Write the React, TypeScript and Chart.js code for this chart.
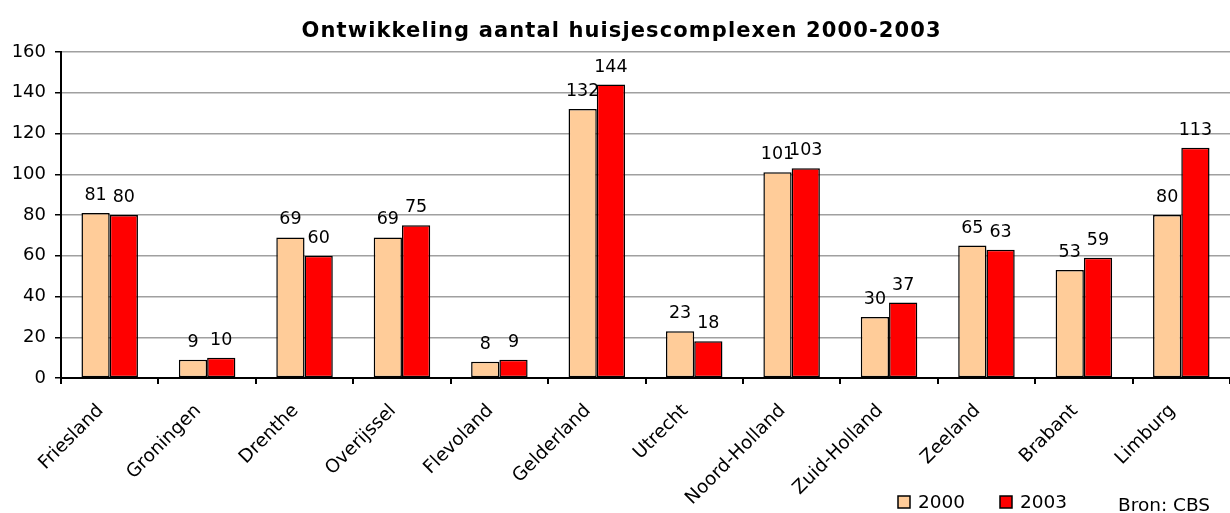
import React, { useEffect, useRef } from "react";
import { Chart, registerables } from "chart.js";

Chart.register(...registerables);

const categories = [
  "Friesland", "Groningen", "Drenthe", "Overijssel", "Flevoland", "Gelderland",
  "Utrecht", "Noord-Holland", "Zuid-Holland", "Zeeland", "Brabant", "Limburg",
];
const values2000 = [81, 9, 69, 69, 8, 132, 23, 101, 30, 65, 53, 80];
const values2003 = [80, 10, 60, 75, 9, 144, 18, 103, 37, 63, 59, 113];
const seriesNames = ["2000", "2003"];
const titleText = "Ontwikkeling aantal huisjescomplexen 2000-2003";
const sourceText = "Bron: CBS";

const FONT = "'DejaVu Sans', sans-serif";
const colors = ["#FFCC99", "#FF0000"];

const labelsPlugin = {
  id: "valueLabels",
  afterDatasetsDraw(chart: any) {
    const ctx = chart.ctx;
    ctx.save();
    ctx.font = `17.5px ${FONT}`;
    ctx.fillStyle = "#000";
    ctx.textAlign = "center";
    ctx.textBaseline = "alphabetic";
    chart.data.datasets.forEach((ds: any, di: number) => {
      const meta = chart.getDatasetMeta(di);
      meta.data.forEach((el: any, i: number) => {
        ctx.fillText(String(ds.data[i]), el.x, el.y - 13);
      });
    });
    ctx.restore();
  },
};

const decorPlugin = {
  id: "decor",
  afterDraw(chart: any) {
    const ctx = chart.ctx;
    ctx.save();
    ctx.fillStyle = "#000";
    ctx.font = `bold 21px ${FONT}`;
    ctx.textAlign = "left";
    ctx.textBaseline = "alphabetic";
    const base = ctx.measureText(titleText).width;
    const targetW = 639;
    const spacing = Math.max(0, (targetW - base) / (titleText.length - 1));
    (ctx as any).letterSpacing = `${spacing}px`;
    const w = ctx.measureText(titleText).width - spacing;
    ctx.fillText(titleText, 621 - w / 2, 37);
    (ctx as any).letterSpacing = "0px";

    ctx.font = `18.5px ${FONT}`;
    ctx.textAlign = "left";
    ctx.textBaseline = "middle";
    const legendX = [898, 1000];
    seriesNames.forEach((name, i) => {
      const x = legendX[i];
      ctx.fillStyle = colors[i];
      ctx.fillRect(x, 496, 12, 12);
      ctx.strokeStyle = "#000";
      ctx.lineWidth = 1.5;
      ctx.strokeRect(x, 496, 12, 12);
      ctx.fillStyle = "#000";
      ctx.fillText(name, x + 20, 503);
    });
    ctx.fillText(sourceText, 1118, 506);
    ctx.restore();
  },
};

export default function App() {
  const ref = useRef<HTMLCanvasElement>(null);
  useEffect(() => {
    if (!ref.current) return;
    const chart = new Chart(ref.current, {
      type: "bar",
      data: {
        labels: categories,
        datasets: [
          {
            label: seriesNames[0],
            data: values2000,
            backgroundColor: colors[0],
            borderColor: "#000",
            borderWidth: 1.5,
            borderSkipped: false,
            categoryPercentage: 0.58,
            barPercentage: 1,
          },
          {
            label: seriesNames[1],
            data: values2003,
            backgroundColor: colors[1],
            borderColor: "#000",
            borderWidth: 1.5,
            borderSkipped: false,
            categoryPercentage: 0.58,
            barPercentage: 1,
          },
        ],
      },
      options: {
        animation: false,
        responsive: false,
        maintainAspectRatio: false,
        layout: { padding: { top: 52, right: 0, left: 0, bottom: 0 } },
        plugins: { legend: { display: false }, title: { display: false }, tooltip: { enabled: false } },
        scales: {
          x: {
            grid: { display: true, drawOnChartArea: false, drawTicks: true, tickLength: 6, offset: true, color: "#000", lineWidth: 2 },
            border: { color: "#000", width: 2 },
            ticks: {
              font: { family: FONT, size: 18.5 },
              color: "#000",
              minRotation: 45,
              maxRotation: 45,
              autoSkip: false,
              padding: 16,
              labelOffset: -9,
            },
            afterFit(s: any) { s.height = 135; },
          },
          y: {
            min: 0,
            max: 160,
            ticks: { stepSize: 20, font: { family: FONT, size: 18 }, color: "#000", padding: 9 },
            grid: { color: "#A0A0A0", lineWidth: 1.5, tickColor: "#000", tickLength: 6 },
            border: { color: "#000", width: 2 },
            afterFit(s: any) { s.width = 61; },
          },
        },
      },
      plugins: [labelsPlugin, decorPlugin],
    });
    return () => chart.destroy();
  }, []);
  return (
    <div style={{ position: "fixed", left: 0, top: 0, width: 1230, height: 513, background: "#fff" }}>
      <canvas ref={ref} width={1230} height={513} style={{ width: 1230, height: 513 }} />
    </div>
  );
}
